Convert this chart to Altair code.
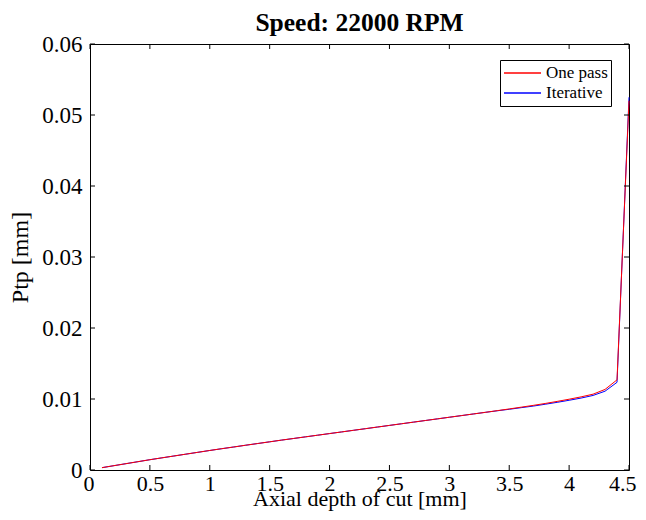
import altair as alt
import pandas as pd

depth = [0.1, 0.2, 0.3, 0.4, 0.5, 0.6, 0.7, 0.8, 0.9, 1.0,
         1.1, 1.2, 1.3, 1.4, 1.5, 1.6, 1.7, 1.8, 1.9, 2.0,
         2.1, 2.2, 2.3, 2.4, 2.5, 2.6, 2.7, 2.8, 2.9, 3.0,
         3.1, 3.2, 3.3, 3.4, 3.5, 3.6, 3.7, 3.8, 3.9, 4.0,
         4.1, 4.2, 4.3, 4.4, 4.5]

one_pass = [0.00033, 0.00061, 0.00089, 0.00117, 0.00145, 0.00171, 0.00197, 0.00223, 0.00249, 0.00275,
            0.00300, 0.00324, 0.00349, 0.00373, 0.00397, 0.00421, 0.00444, 0.00467, 0.00490, 0.00513,
            0.00536, 0.00559, 0.00582, 0.00605, 0.00628, 0.00651, 0.00674, 0.00697, 0.00720, 0.00743,
            0.00766, 0.00789, 0.00812, 0.00836, 0.00860, 0.00885, 0.00910, 0.00937, 0.00966, 0.00997,
            0.01030, 0.01068, 0.01135, 0.01270, 0.05200]

iterative = [0.00033, 0.00061, 0.00089, 0.00117, 0.00145, 0.00171, 0.00197, 0.00223, 0.00249, 0.00275,
             0.00300, 0.00324, 0.00349, 0.00373, 0.00397, 0.00421, 0.00444, 0.00467, 0.00490, 0.00513,
             0.00536, 0.00559, 0.00582, 0.00605, 0.00628, 0.00651, 0.00674, 0.00697, 0.00720, 0.00743,
             0.00766, 0.00789, 0.00812, 0.00834, 0.00855, 0.00878, 0.00900, 0.00926, 0.00953, 0.00982,
             0.01013, 0.01050, 0.01110, 0.01235, 0.05250]

series_names = ["One pass", "Iterative"]
series_colors = ["#ff0000", "#0000ff"]

x_ticks = [0, 0.5, 1, 1.5, 2, 2.5, 3, 3.5, 4, 4.5]
y_ticks = [0, 0.01, 0.02, 0.03, 0.04, 0.05, 0.06]

W, H = 539, 426
FONT = "Liberation Serif"

df_one = pd.DataFrame({"x": depth, "y": one_pass, "s": "One pass"})
df_it = pd.DataFrame({"x": depth, "y": iterative, "s": "Iterative"})

xs = alt.Scale(domain=[0, 4.5], nice=False, zero=False)
ys = alt.Scale(domain=[0, 0.06], nice=False, zero=False)
x_axis = alt.Axis(values=x_ticks, format="~g", labelFlush=True, labelFlushOffset=7,
                  labelOverlap=False, labelPadding=3, labelFontSize=22,
                  titlePadding=-6, titleFontSize=22,
                  title="Axial depth of cut [mm]")
y_axis = alt.Axis(values=y_ticks, format="~g", labelFlush=False, labelOverlap=False,
                  labelPadding=8, titlePadding=9, titleFontSize=24,
                  title="Ptp [mm]")

color = alt.Color("s:N", scale=alt.Scale(domain=series_names, range=series_colors),
                  legend=alt.Legend(title=None, orient="none", legendX=410, legendY=16,
                                    symbolType="stroke", symbolSize=1369, symbolStrokeWidth=1.5,
                                    clipHeight=20,
                                    strokeColor="black", fillColor="white", padding=3,
                                    labelFont=FONT, labelFontSize=17, labelColor="black",
                                    rowPadding=0, labelOffset=4))


def series_layer(d):
    return alt.Chart(d).mark_line(strokeWidth=1).encode(
        x=alt.X("x:Q", scale=xs, axis=x_axis),
        y=alt.Y("y:Q", scale=ys, axis=y_axis),
        color=color,
    )


dfx = pd.DataFrame({"x": x_ticks})
dfy = pd.DataFrame({"y": y_ticks})
TL = 5
bt = alt.Chart(dfx).mark_rule(color="black", strokeWidth=1).encode(
    x=alt.X("x:Q", scale=xs, axis=x_axis), y=alt.value(H), y2=alt.value(H - TL))
tt = alt.Chart(dfx).mark_rule(color="black", strokeWidth=1).encode(
    x=alt.X("x:Q", scale=xs, axis=x_axis), y=alt.value(0), y2=alt.value(TL))
lt = alt.Chart(dfy).mark_rule(color="black", strokeWidth=1).encode(
    y=alt.Y("y:Q", scale=ys, axis=y_axis), x=alt.value(0), x2=alt.value(TL))
rt = alt.Chart(dfy).mark_rule(color="black", strokeWidth=1).encode(
    y=alt.Y("y:Q", scale=ys, axis=y_axis), x=alt.value(W), x2=alt.value(W - TL))

chart = alt.layer(series_layer(df_it), series_layer(df_one), bt, tt, lt, rt).properties(
    width=W, height=H,
    title=alt.TitleParams("Speed: 22000 RPM", font=FONT, fontSize=25.5, fontWeight="bold",
                          color="black", anchor="middle", offset=3, dy=6),
    autosize=alt.AutoSizeParams(type="none"),
    padding={"left": 82, "top": 36, "right": 9, "bottom": 42},
).configure_view(stroke="black", strokeWidth=1).configure_axis(
    domain=False, grid=False, ticks=False,
    labelFont=FONT, labelFontSize=23, labelColor="black",
    titleFont=FONT, titleFontSize=23, titleFontWeight="normal", titleColor="black",
)

chart.save("out.html", embed_options={"renderer": "svg", "actions": False})
